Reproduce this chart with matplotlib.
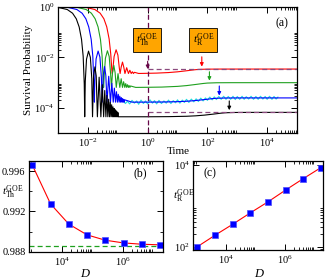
import matplotlib
matplotlib.use('Agg')
import matplotlib.pyplot as plt
from matplotlib.ticker import FixedLocator, NullFormatter, LogFormatterSciNotation, FormatStrFormatter

plt.rcParams['font.family'] = ['Liberation Serif', 'DejaVu Serif']
plt.rcParams['mathtext.fontset'] = 'custom'
plt.rcParams['mathtext.rm'] = 'Liberation Serif'
plt.rcParams['mathtext.it'] = 'Liberation Serif:italic'
plt.rcParams['font.size'] = 8

# ---- panel (a): survival probability for four matrix sizes ----
t_red = [0.001, 0.0086, 0.0171, 0.0257, 0.0343, 0.0428, 0.0514, 0.0583, 0.0634, 0.0657,
         0.0685, 0.0754, 0.088, 0.101, 0.113, 0.120, 0.130, 0.144, 0.159, 0.174, 0.199,
         0.228, 0.254, 0.282, 0.308, 0.336, 0.362, 0.5, 1, 2, 5, 10, 20, 35, 50, 100, 300, 1e5]
sp_red = [1.0, 0.94, 0.775, 0.556, 0.335, 0.160, 0.0534, 0.0134, 0.0031, 0.0023,
          0.0034, 0.0108, 0.0199, 0.0123, 0.0037, 0.0023, 0.0041, 0.0065, 0.0041, 0.0023, 0.0039,
          0.0023, 0.0031, 0.0023, 0.0027, 0.0023, 0.00257, 0.00231, 0.002345, 0.002388, 0.002509,
          0.002683, 0.00295, 0.003205, 0.003336, 0.003425, 0.003447, 0.00345]

t_green = [0.001, 0.00438, 0.00876, 0.0131, 0.0175, 0.0219, 0.0263, 0.0298, 0.0324, 0.0336,
           0.0350, 0.0386, 0.045, 0.0517, 0.0578, 0.0615, 0.0666, 0.0738, 0.0815, 0.0891, 0.102,
           0.117, 0.130, 0.144, 0.157, 0.172, 0.185, 0.199, 0.213, 0.227, 0.240, 0.255, 0.268,
           0.4, 1, 3, 10, 20, 40, 70, 100, 200, 600, 1e5]
sp_green = [1.0, 0.94, 0.775, 0.554, 0.333, 0.159, 0.0518, 0.0118, 0.0015, 0.00065,
            0.0017, 0.0092, 0.0182, 0.0107, 0.0021, 0.00065, 0.0024, 0.0048, 0.0025, 0.00065, 0.00227,
            0.00065, 0.00143, 0.00065, 0.00109, 0.00065, 0.00092, 0.00065, 0.00083, 0.00065, 0.00077,
            0.00065, 0.00074, 0.00065, 0.000657, 0.00067, 0.000714, 0.000766, 0.000848, 0.000925,
            0.000965, 0.000992, 0.000999, 0.001]

t_blue = [0.001, 0.00214, 0.00428, 0.00642, 0.00857, 0.0107, 0.0129, 0.0146, 0.0158, 0.0164,
          0.0171, 0.0188, 0.022, 0.0253, 0.0283, 0.0301, 0.0326, 0.0361, 0.0398, 0.0436, 0.0498,
          0.0570, 0.0634, 0.0706, 0.0769, 0.0840, 0.0905, 0.0975, 0.104, 0.111, 0.117, 0.124,
          0.131, 0.138, 0.144, 0.151, 0.158, 0.165, 0.171, 0.3, 1, 3, 10, 20, 40, 80, 140, 200,
          400, 1200, 1e5]
sp_blue = [0.986, 0.94, 0.775, 0.553, 0.333, 0.158, 0.0513, 0.0113, 0.00102, 0.00017,
           0.00126, 0.0087, 0.0177, 0.0102, 0.0016, 0.00017, 0.00192, 0.00433, 0.00197, 0.00017, 0.00179,
           0.00017, 0.00095, 0.00017, 0.00061, 0.00017, 0.00044, 0.00017, 0.000347, 0.00017, 0.000293,
           0.00017, 0.000259, 0.00017, 0.000236, 0.00017, 0.000221, 0.00017, 0.00021, 0.00017,
           0.0001708, 0.0001724, 0.0001776, 0.0001846, 0.0001966, 0.0002152, 0.000233, 0.000242,
           0.000248, 0.00025, 0.00025]

t_black = [0.001, 0.00204, 0.00307, 0.00409, 0.00511, 0.00613, 0.00695, 0.00756, 0.00783,
           0.00818, 0.00900, 0.0105, 0.0121, 0.0135, 0.0143, 0.0155, 0.0172, 0.0190, 0.0208,
           0.0238, 0.0272, 0.0303, 0.0337, 0.0367, 0.0401, 0.0432, 0.0465, 0.0496, 0.0530,
           0.0561, 0.0594, 0.0625, 0.0658, 0.0689, 0.0722, 0.0753, 0.0786, 0.0818, 0.0851,
           0.0883, 0.0915, 0.0947, 0.0979, 0.1012, 0.1043, 0.2, 1, 5, 20, 40, 80, 160, 280,
           400, 800, 2400, 1e5]
sp_black = [0.94, 0.775, 0.553, 0.333, 0.158, 0.0511, 0.0111, 0.00089, 4.5e-5,
            0.00114, 0.0085, 0.0176, 0.0100, 0.00148, 4.5e-5, 0.0018, 0.0042, 0.00185, 4.5e-5,
            0.00165, 4.5e-5, 0.00083, 4.5e-5, 0.00049, 4.5e-5, 0.000315, 4.5e-5, 0.000222, 4.5e-5,
            0.000168, 4.5e-5, 0.000134, 4.5e-5, 0.000111, 4.5e-5, 9.6e-5, 4.5e-5, 8.5e-5, 4.5e-5,
            7.7e-5, 4.5e-5, 7.06e-5, 4.5e-5, 6.6e-5, 4.5e-5, 4.5e-5, 4.5e-5, 4.555e-5, 4.71e-5,
            4.9e-5, 5.23e-5, 5.74e-5, 6.23e-5, 6.48e-5, 6.65e-5, 6.7e-5, 6.7e-5]

# numerical data (cyan) for the blue case
t_cyan = [0.15, 0.18, 0.21, 0.25, 0.3, 0.36, 0.43, 0.5, 0.6, 0.72, 0.85, 1.0, 1.2, 1.45, 1.7,
          2.0, 2.4, 2.9, 3.5, 4.2, 5.0, 6.0, 7.2, 8.6, 10, 12, 14.5, 17, 20, 24, 29, 35, 42, 50,
          60, 72, 86, 100, 120, 145, 170, 200, 240, 290, 350, 420, 500, 600, 720, 860, 1000,
          1200, 1450, 1700, 2000, 2400, 2900, 3500, 4200, 5000, 6000, 7200, 8600, 1e4, 1.2e4,
          1.45e4, 1.7e4, 2e4, 2.3e4]
sp_cyan = [1.95e-4, 1.5e-4, 1.85e-4, 1.45e-4, 2.0e-4, 1.55e-4, 1.9e-4, 1.4e-4, 2.05e-4, 1.5e-4,
           1.9e-4, 1.45e-4, 2.1e-4, 1.55e-4, 1.95e-4, 1.45e-4, 2.0e-4, 1.5e-4, 1.9e-4, 1.55e-4,
           2.05e-4, 1.5e-4, 1.95e-4, 1.6e-4, 2.1e-4, 1.55e-4, 2.05e-4, 1.65e-4, 2.2e-4, 1.65e-4,
           2.25e-4, 1.75e-4, 2.3e-4, 1.8e-4, 2.45e-4, 1.9e-4, 2.5e-4, 2.0e-4, 2.7e-4, 2.1e-4,
           2.75e-4, 2.15e-4, 2.85e-4, 2.2e-4, 2.9e-4, 2.2e-4, 2.85e-4, 2.2e-4, 2.9e-4, 2.15e-4,
           2.85e-4, 2.2e-4, 2.9e-4, 2.2e-4, 2.8e-4, 2.25e-4, 2.9e-4, 2.2e-4, 2.85e-4, 2.2e-4,
           2.9e-4, 2.25e-4, 2.85e-4, 2.2e-4, 2.9e-4, 2.2e-4, 2.85e-4, 2.25e-4, 2.7e-4]

sat_red = 3.45e-3
sat_black = 6.7e-5
t_th = 1.0

# arrows marking t_R for each curve: (time, tail, tip)
arrow_t = [65, 117, 250, 540]
arrow_tail = [1.05e-2, 2.7e-3, 7.4e-4, 1.9e-4]
arrow_tip = [4.3e-3, 1.2e-3, 3.1e-4, 8.2e-5]
arrow_col = ['#ff0000', '#1fa01f', '#0000ff', '#000000']

# ---- panels (b) and (c) ----
D = [1024, 4096, 16384, 65536, 262144, 1048576, 4194304, 16777216]
t_Th = [0.9966, 0.99274, 0.99074, 0.98967, 0.98914, 0.98887, 0.98874, 0.98868]
t_Th_inf = 0.9886
t_R = [100, 191, 355, 676, 1259, 2455, 4677, 8710]

maroon = '#670748'
mauve = '#8b4a7e'


def grace_minor(decades):
    return [k * 10.0 ** d for d in decades for k in range(2, 10)]


def style(ax):
    ax.tick_params(which='both', direction='in', top=True, right=True, labelsize=7.5)
    ax.tick_params(which='major', length=4, width=0.7, pad=2.5)
    ax.tick_params(which='minor', length=2, width=0.6)
    for s in ax.spines.values():
        s.set_linewidth(0.9)


fig = plt.figure(figsize=(3.27, 2.8), dpi=100)

ax = fig.add_axes([0.1774, 0.5239, 0.7309, 0.4521])
ax.set_xscale('log')
ax.set_yscale('log')
ax.plot(t_red, sp_red, color='#ff0000', lw=0.8)
ax.plot(t_green, sp_green, color='#1fa01f', lw=0.8)
ax.plot(t_cyan, sp_cyan, color='#22dddd', lw=0.8)
ax.plot(t_blue, sp_blue, color='#0000ff', lw=0.8)
ax.plot(t_black, sp_black, color='#000000', lw=0.8)
ax.plot([t_th, 1e5], [sat_red, sat_red], color=mauve, lw=0.9, dashes=(4, 2.5))
ax.plot([t_th, 1e5], [sat_black, sat_black], color=mauve, lw=0.9, dashes=(4, 2.5))
ax.axvline(t_th, color=maroon, lw=0.9, dashes=(4, 2.5))
ax.annotate('', xy=(t_th, sat_red), xytext=(t_th, 7e-3),
            arrowprops=dict(arrowstyle='-|>', color=maroon, lw=0.8, mutation_scale=5,
                            shrinkA=0, shrinkB=0))
for tt, a0, a1, c in zip(arrow_t, arrow_tail, arrow_tip, arrow_col):
    ax.annotate('', xy=(tt, a1), xytext=(tt, a0),
                arrowprops=dict(arrowstyle='-|>', color=c, lw=0.8, mutation_scale=5,
                                shrinkA=0, shrinkB=0))
box = dict(boxstyle='square,pad=0.3', fc='#ffa500', ec='black', lw=0.6)
ax.text(0.965, 0.048, r'$t^{\rm GOE}_{\rm Th}$', ha='center', va='center', fontsize=8, bbox=box)
ax.text(74, 0.048, r'$t^{\rm GOE}_{\rm R}$', ha='center', va='center', fontsize=8, bbox=box)
ax.text(0.936, 0.869, '(a)', transform=ax.transAxes, ha='center', va='center', fontsize=8.5)
ax.set_xlim(1e-3, 1e5)
ax.set_ylim(1e-5, 1)
ax.xaxis.set_major_locator(FixedLocator([1e-2, 1, 1e2, 1e4]))
ax.xaxis.set_minor_locator(FixedLocator(grace_minor([-2, 0, 2, 4])))
ax.yaxis.set_major_locator(FixedLocator([1e-4, 1e-2, 1]))
ax.yaxis.set_minor_locator(FixedLocator(grace_minor([-4, -2])))
for a in (ax.xaxis, ax.yaxis):
    a.set_major_formatter(LogFormatterSciNotation())
    a.set_minor_formatter(NullFormatter())
style(ax)
fig.text(0.086, 0.75, 'Survival Probability', rotation=90, ha='center', va='center', fontsize=8)
fig.text(0.544, 0.458, 'Time', ha='center', va='center', fontsize=8)

# panel (b)
bx = fig.add_axes([0.0887, 0.1011, 0.4083, 0.3239])
bx.set_xscale('log')
bx.axhline(t_Th_inf, color='#1fa01f', lw=0.9, dashes=(4, 2.5))
bx.plot(D, t_Th, color='#ff0000', lw=0.8)
bx.plot(D, t_Th, 's', ms=4, mfc='#0000ff', mec='#4d4dff', mew=0.5)
bx.set_xlim(796, 2.03e7)
bx.set_ylim(0.988, 0.997)
bx.xaxis.set_major_locator(FixedLocator([1e4, 1e6]))
bx.xaxis.set_minor_locator(FixedLocator(grace_minor([2, 4, 6])))
bx.xaxis.set_major_formatter(LogFormatterSciNotation())
bx.xaxis.set_minor_formatter(NullFormatter())
bx.yaxis.set_major_locator(FixedLocator([0.988, 0.992, 0.996]))
bx.yaxis.set_minor_locator(FixedLocator([0.990, 0.994]))
bx.yaxis.set_major_formatter(FormatStrFormatter('%.3f'))
style(bx)
bx.text(0.831, 0.868, '(b)', transform=bx.transAxes, ha='center', va='center', fontsize=8.5)
fig.text(0.04, 0.314, r'$t^{\rm GOE}_{\rm Th}$', ha='center', va='center', fontsize=8)
fig.text(0.26, 0.02, r'$D$', ha='center', va='center', fontsize=9)

# panel (c)
cx = fig.add_axes([0.5902, 0.1054, 0.3976, 0.3196])
cx.set_xscale('log')
cx.set_yscale('log')
cx.plot(D, t_R, color='#ff0000', lw=0.8)
cx.plot(D, t_R, 's', ms=4, mfc='#0000ff', mec='#4d4dff', mew=0.5)
cx.set_xlim(731, 1.96e7)
cx.set_ylim(81, 1.26e4)
cx.xaxis.set_major_locator(FixedLocator([1e4, 1e6]))
cx.xaxis.set_minor_locator(FixedLocator(grace_minor([2, 4, 6])))
cx.yaxis.set_major_locator(FixedLocator([1e2, 1e4]))
cx.yaxis.set_minor_locator(FixedLocator(grace_minor([1, 2, 4])))
for a in (cx.xaxis, cx.yaxis):
    a.set_major_formatter(LogFormatterSciNotation())
    a.set_minor_formatter(NullFormatter())
style(cx)
cx.text(0.131, 0.866, '(c)', transform=cx.transAxes, ha='center', va='center', fontsize=8.5)
fig.text(0.563, 0.30, r'$t^{\rm GOE}_{\rm R}$', ha='center', va='center', fontsize=8)
fig.text(0.793, 0.02, r'$D$', ha='center', va='center', fontsize=9)

fig.savefig('out.png', dpi=100)
